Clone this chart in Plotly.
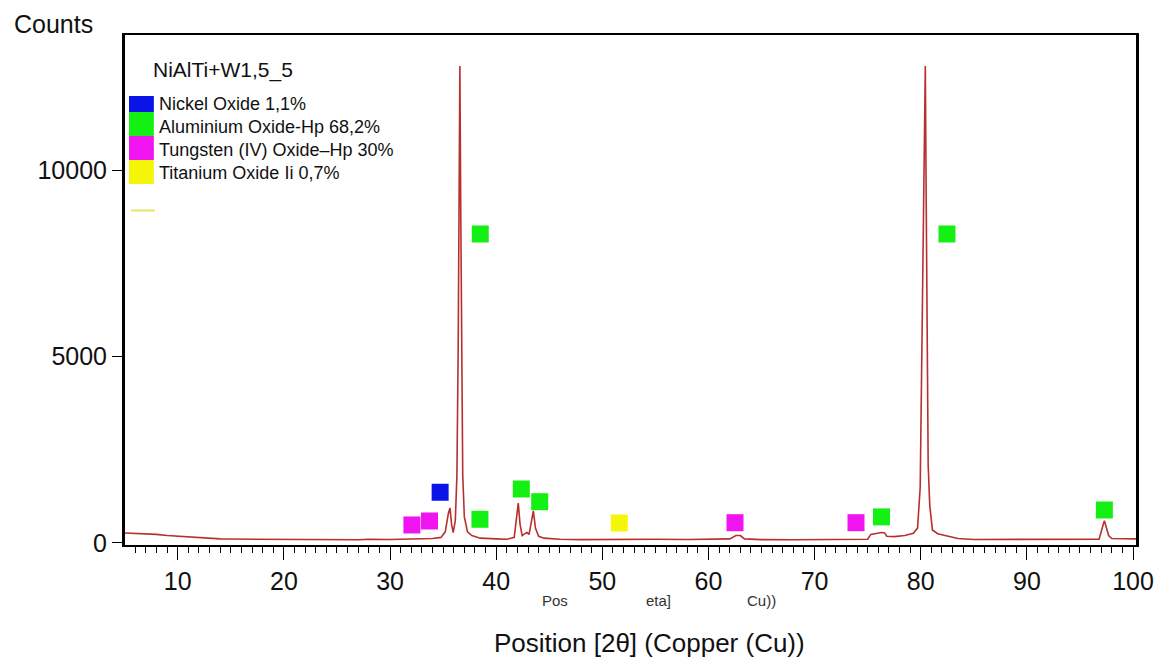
import plotly.graph_objects as go

# ---- Data ----
pattern_x = [5, 6, 7, 8, 9, 10, 11, 12, 13, 14, 15, 17, 20, 22, 25, 27, 28, 29, 30, 31, 32, 33, 34,
             34.8, 35.2, 35.5, 35.65, 35.8, 35.95, 36.15, 36.3, 36.42, 36.5, 36.58, 36.66, 36.75, 36.85,
             37.0, 37.3, 37.7, 38.5, 40, 41, 41.7, 41.9, 42.08, 42.25, 42.45, 42.7, 42.9, 43.1, 43.3,
             43.5, 43.7, 44.0, 44.5, 46, 48, 50, 51.5, 53, 55, 58, 60, 62, 62.6, 63.0, 63.4, 65, 68,
             70, 73, 75, 75.3, 76.3, 76.6, 76.8, 77.5, 78.5, 79.3, 79.7, 79.95, 80.12, 80.28, 80.43,
             80.52, 80.6, 80.7, 80.85, 81.1, 81.6, 82.5, 83.5, 85, 90, 95, 96.8, 97.1, 97.3, 97.5,
             97.7, 98, 100.3]
pattern_y = [270, 260, 250, 230, 200, 180, 160, 130, 120, 110, 105, 100, 90, 85, 80, 85, 100, 90, 95, 100, 110, 130, 120,
             150, 300, 800, 940, 500, 280, 600, 1800, 5200, 10000, 12790, 9000, 5200, 1800,
             700, 300, 200, 130, 110, 100, 150, 600, 1070, 500, 200, 250, 280, 230, 500,
             860, 400, 180, 130, 100, 90, 95, 110, 95, 100, 95, 100, 110, 200, 200, 110, 90, 85,
             90, 90, 100, 230, 280, 270, 180, 170, 200, 260, 400, 1500, 5000, 9300, 12790,
             9000, 4000, 2100, 1000, 350, 250, 180, 120, 95, 90, 95, 100, 400, 600, 400,
             200, 120, 110]

phase_names = ["Nickel Oxide 1,1%", "Aluminium Oxide-Hp 68,2%",
               "Tungsten (IV) Oxide\u2013Hp 30%", "Titanium Oxide Ii 0,7%"]
phase_colors = ["#0a14e6", "#14f014", "#f014f0", "#f5f50a"]

nio_x = [34.72]
nio_y = [1360]
al2o3_x = [38.5, 38.47, 42.37, 44.1, 76.3, 82.47, 97.3]
al2o3_y = [8285, 636, 1448, 1107, 700, 8285, 885]
wo2_x = [32.06, 33.72, 62.5, 73.9]
wo2_y = [483, 590, 544, 544]
tio_x = [51.6]
tio_y = [536]

x_ticks = [10, 20, 30, 40, 50, 60, 70, 80, 90, 100]
y_ticks = [0, 5000, 10000]

sample_name = "NiAlTi+W1,5_5"
x_title = "Position [2\u03b8] (Copper (Cu))"
y_title = "Counts"

FONT = "Arial, Liberation Sans, sans-serif"

# ---- Figure geometry (page has an 8px body margin) ----
OFF = 8
W, H = 1166 - OFF, 660 - OFF
L, R, T, B = 125 - OFF, 1141 - OFF, 35 - OFF, 545 - OFF


def px(xp):
    return (xp - OFF - L) / (R - L)


def py(yp):
    return (B - (yp - OFF)) / (B - T)


fig = go.Figure()
fig.add_trace(go.Scatter(x=pattern_x, y=pattern_y, mode="lines",
                         line=dict(color="#b8302e", width=1.6), showlegend=False,
                         hoverinfo="x+y"))

for xs, ys, col, nm in [(nio_x, nio_y, phase_colors[0], phase_names[0]),
                        (al2o3_x, al2o3_y, phase_colors[1], phase_names[1]),
                        (wo2_x, wo2_y, phase_colors[2], phase_names[2]),
                        (tio_x, tio_y, phase_colors[3], phase_names[3])]:
    fig.add_trace(go.Scatter(x=xs, y=ys, mode="markers", name=nm, showlegend=False,
                             marker=dict(symbol="square", size=17, color=col,
                                         line=dict(width=0))))

shapes = []
# legend color blocks (stacked)
block_rows = [(96, 112), (112, 136), (136, 160), (160, 184)]
for (y0, y1), col in zip(block_rows, phase_colors):
    shapes.append(dict(type="rect", xref="paper", yref="paper",
                       x0=px(129), x1=px(154), y0=py(y1), y1=py(y0),
                       fillcolor=col, line=dict(width=0), layer="above"))
# small yellow line under legend
shapes.append(dict(type="line", xref="paper", yref="paper",
                   x0=px(131), x1=px(155), y0=py(210.5), y1=py(210.5),
                   line=dict(color="#e4e66a", width=2)))

annotations = []
annotations.append(dict(text=sample_name, xref="paper", yref="paper",
                        x=px(151), y=py(70), xanchor="left", yanchor="middle",
                        showarrow=False, font=dict(family=FONT, size=21, color="#111")))
for nm, yc in zip(phase_names, [104, 127, 150, 173]):
    annotations.append(dict(text=nm, xref="paper", yref="paper",
                            x=px(157), y=py(yc), xanchor="left", yanchor="middle",
                            showarrow=False, font=dict(family=FONT, size=18, color="#111")))
annotations.append(dict(text=y_title, xref="paper", yref="paper",
                        x=px(53), y=py(24), xanchor="center", yanchor="middle",
                        showarrow=False, font=dict(family=FONT, size=25, color="#111")))
annotations.append(dict(text=x_title, xref="paper", yref="paper",
                        x=px(652), y=py(643), xanchor="center", yanchor="middle",
                        showarrow=False, font=dict(family=FONT, size=26, color="#111")))
for t, xc in zip(["Pos", "eta]", "Cu))"], [557, 661, 765]):
    annotations.append(dict(text=t, xref="paper", yref="paper",
                            x=px(xc), y=py(600), xanchor="center", yanchor="middle",
                            showarrow=False, font=dict(family=FONT, size=15, color="#333")))

fig.update_layout(
    width=W, height=H,
    margin=dict(l=L, r=W - R, t=T, b=H - B, pad=0),
    paper_bgcolor="white", plot_bgcolor="white",
    shapes=shapes, annotations=annotations,
    showlegend=False,
    xaxis=dict(range=[5.03, 100.28], tickvals=x_ticks, ticktext=[str(v) for v in x_ticks],
               ticks="outside", ticklen=13, tickwidth=1, tickcolor="black",
               minor=dict(dtick=1, ticks="outside", ticklen=6, tickcolor="black", tickwidth=1),
               showline=True, linecolor="black", linewidth=2, mirror=True,
               showgrid=False, zeroline=False,
               tickfont=dict(family=FONT, size=25, color="#111")),
    yaxis=dict(range=[-54, 13620], tickvals=y_ticks, ticktext=[str(v) for v in y_ticks],
               ticks="outside", ticklen=10, tickwidth=1, tickcolor="black",
               showline=True, linecolor="black", linewidth=3, mirror=True,
               showgrid=False, zeroline=False,
               tickfont=dict(family=FONT, size=25, color="#111")),
)

fig.write_html("out.html")
